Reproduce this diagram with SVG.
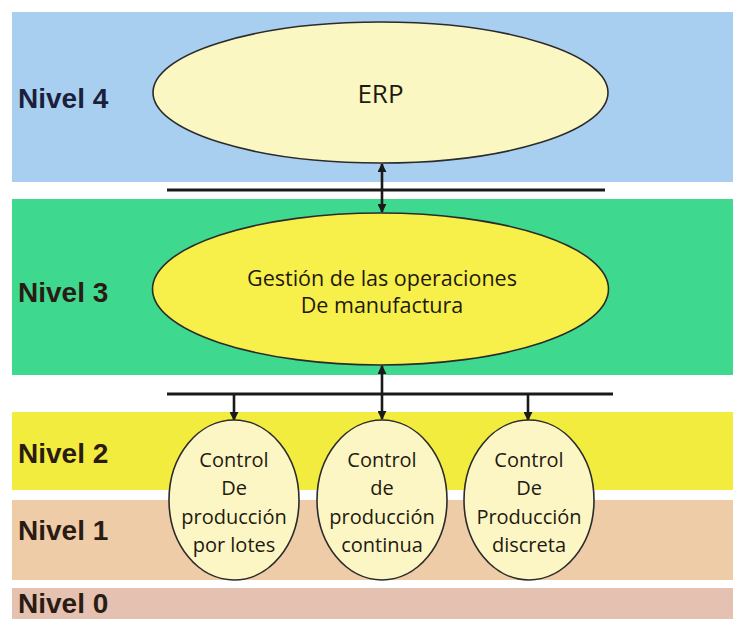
<svg xmlns="http://www.w3.org/2000/svg" width="733" height="619" viewBox="0 0 733 619">
  <defs>
    <marker id="head" viewBox="0 0 10 10" refX="9" refY="5" markerWidth="9" markerHeight="9" markerUnits="userSpaceOnUse" orient="auto-start-reverse">
      <path d="M0,0 L10,5 L0,10 z" fill="#1a1a1a"/>
    </marker>
    <style>
      .band-label { font-family: "Liberation Sans", Arial, sans-serif; font-weight: bold; font-size: 28px; fill: #2a1c14; }
      .node-shape { stroke: #2b2b2b; stroke-width: 1.6; }
      .node-text { font-family: "Open Sans", "DejaVu Sans", sans-serif; fill: #1e1a10; text-anchor: middle; }
      .small-text { font-size: 20px; }
      .bus { stroke: #1a1a1a; stroke-width: 3.2; fill: none; }
      .link { stroke: #1a1a1a; stroke-width: 2.6; fill: none; }
    </style>
  </defs>

  <rect width="733" height="619" fill="#ffffff"/>

  <!-- level bands -->
  <g id="bands">
    <rect x="12" y="12" width="721" height="170" fill="#a8cff0"/>
    <rect x="12" y="199" width="721" height="176" fill="#3ed88f"/>
    <rect x="12" y="412" width="721" height="78" fill="#f1ec3e"/>
    <rect x="12" y="500" width="721" height="80" fill="#efcca8"/>
    <rect x="12" y="588" width="721" height="31" fill="#e4c1b0"/>
  </g>

  <!-- level labels -->
  <g id="labels">
    <text class="band-label" x="18" y="108" style="fill:#1c1f3c">Nivel 4</text>
    <text class="band-label" x="18" y="302">Nivel 3</text>
    <text class="band-label" x="18" y="463">Nivel 2</text>
    <text class="band-label" x="18" y="540">Nivel 1</text>
    <text class="band-label" x="18" y="613">Nivel 0</text>
  </g>

  <!-- connectors -->
  <g id="connectors">
    <line class="bus" x1="167" y1="190" x2="605" y2="190"/>
    <line class="link" x1="382" y1="164" x2="382" y2="212" marker-start="url(#head)" marker-end="url(#head)"/>
    <line class="bus" x1="167" y1="394" x2="613" y2="394"/>
    <line class="link" x1="382" y1="366" x2="382" y2="419" marker-start="url(#head)" marker-end="url(#head)"/>
    <line class="link" x1="234" y1="394" x2="234" y2="420" marker-end="url(#head)"/>
    <line class="link" x1="528" y1="394" x2="528" y2="420" marker-end="url(#head)"/>
  </g>

  <!-- nodes -->
  <g id="erp">
    <ellipse class="node-shape" cx="380.5" cy="92.5" rx="227.5" ry="70.5" fill="#fbf7c2"/>
    <text class="node-text" x="380.5" y="103" font-size="26">ERP</text>
  </g>

  <g id="gestion">
    <ellipse class="node-shape" cx="380.5" cy="289" rx="228" ry="76" fill="#f7ef4a"/>
    <text class="node-text" x="382" y="286" font-size="21.5">Gestión de las operaciones</text>
    <text class="node-text" x="382" y="313" font-size="21.5">De manufactura</text>
  </g>

  <g id="control-lotes">
    <ellipse class="node-shape" cx="234" cy="500" rx="65" ry="80" fill="#fcf6c4"/>
    <text class="node-text small-text" x="234" y="467">Control</text>
    <text class="node-text small-text" x="234" y="495">De</text>
    <text class="node-text small-text" x="234" y="524">producción</text>
    <text class="node-text small-text" x="234" y="552">por lotes</text>
  </g>

  <g id="control-continua">
    <ellipse class="node-shape" cx="382" cy="500" rx="65" ry="80" fill="#fcf6c4"/>
    <text class="node-text small-text" x="382" y="467">Control</text>
    <text class="node-text small-text" x="382" y="495">de</text>
    <text class="node-text small-text" x="382" y="524">producción</text>
    <text class="node-text small-text" x="382" y="552">continua</text>
  </g>

  <g id="control-discreta">
    <ellipse class="node-shape" cx="529" cy="500" rx="65" ry="80" fill="#fcf6c4"/>
    <text class="node-text small-text" x="529" y="467">Control</text>
    <text class="node-text small-text" x="529" y="495">De</text>
    <text class="node-text small-text" x="529" y="524">Producción</text>
    <text class="node-text small-text" x="529" y="552">discreta</text>
  </g>
</svg>
